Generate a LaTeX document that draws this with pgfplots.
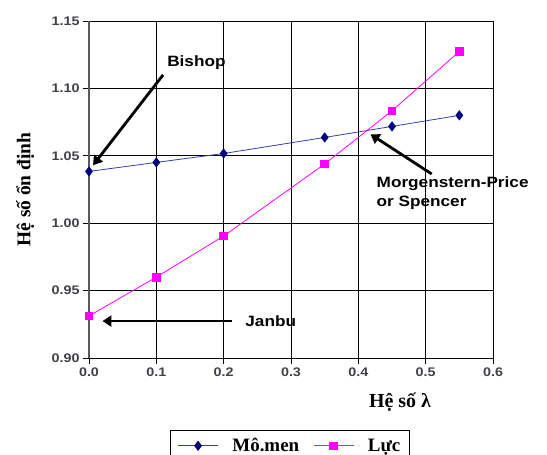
\documentclass[border=0pt]{standalone}
\usepackage{fontspec}
\setmainfont{Liberation Serif}
\newfontfamily\arialb{Liberation Sans}[FakeStretch=1.15]
\usepackage{pgfplots}
\pgfplotsset{compat=1.18}
\usetikzlibrary{arrows.meta}
\definecolor{momen}{HTML}{000080}
\definecolor{momenline}{HTML}{3A3AA8}
\definecolor{luc}{HTML}{FF00FF}
\definecolor{ticktext}{HTML}{404048}

\begin{document}
\begin{tikzpicture}[x=1bp,y=1bp]
\clip (-89,-97) rectangle (458,358);
\begin{axis}[
  at={(0,0)}, anchor=south west,
  scale only axis, width=404bp, height=337bp,
  xmin=0, xmax=0.6, ymin=0.9, ymax=1.15,
  xtick={0,0.1,0.2,0.3,0.4,0.5,0.6},
  ytick={0.90,0.95,1.00,1.05,1.10,1.15},
  clip=false,
  grid=major, major grid style={black, line width=0.7pt},
  axis line style={black, line width=0.7pt},
  tick align=outside, tick pos=left, major tick length=6bp,
  tick style={black, line width=0.7pt},
  /pgf/number format/assume math mode=true,
  tick label style={font=\arialb\bfseries\fontsize{12.5}{12.5}\selectfont, text=ticktext},
  x tick label style={/pgf/number format/.cd, fixed, fixed zerofill, precision=1},
  y tick label style={/pgf/number format/.cd, fixed, fixed zerofill, precision=2},
  ylabel={Hệ số ổn định},
  ylabel style={at={(axis description cs:-0.158,0.50)}, anchor=center,
    font=\bfseries\fontsize{19.5}{19.5}\selectfont},
  legend columns=2,
  legend style={at={(axis description cs:0.4975,-0.2136)}, anchor=north,
    draw=black, line width=0.8pt, font=\bfseries\fontsize{19}{19}\selectfont,
    inner xsep=7bp, inner ysep=6bp, column sep=12bp},
  legend image code/.code={
    \draw[mark repeat=2,mark phase=2] plot coordinates {(0bp,0bp)(20bp,0bp)(40bp,0bp)};},
]
\addplot[color=momenline, line width=0.8pt, mark=diamond*,
  mark options={fill=momen, draw=momen}, mark size=4.5bp] coordinates {
  (0,1.0384)(0.1,1.0451)(0.2,1.0517)(0.35,1.0636)(0.45,1.0718)(0.55,1.0800)};
\addplot[color=luc, line width=0.8pt, mark=square*,
  mark options={fill=luc, draw=luc}, mark size=3.8bp] coordinates {
  (0,0.9312)(0.1,0.9600)(0.2,0.9905)(0.35,1.0439)(0.45,1.0834)(0.55,1.1274)};
\legend{Mô.men, Lực}

\draw[line width=2bp, black!65] (axis cs:0,0.9) -- (axis cs:0,1.15);

\draw[line width=2.8bp, -{Triangle[length=9bp,width=11bp]}]
  (axis cs:0.110,1.110) -- (axis cs:0.006,1.043);
\draw[line width=2.8bp, -{Triangle[length=9bp,width=11bp]}]
  (axis cs:0.509,1.0365) -- (axis cs:0.418,1.066);
\draw[line width=2.8bp, -{Triangle[length=9bp,width=11bp]}]
  (axis cs:0.212,0.9274) -- (axis cs:0.020,0.9274);

\node[anchor=west, inner sep=0, font=\arialb\bfseries\fontsize{15}{15}\selectfont]
  at (axis cs:0.116,1.1188) {Bishop};
\node[anchor=north west, inner sep=0, align=left,
  font=\arialb\bfseries\fontsize{15}{20}\selectfont]
  at (axis cs:0.427,1.035) {Morgenstern-Price\\or Spencer};
\node[anchor=west, inner sep=0, font=\arialb\bfseries\fontsize{15}{15}\selectfont]
  at (axis cs:0.232,0.9274) {Janbu};
\node[font=\bfseries\fontsize{20}{20}\selectfont]
  at (axis cs:0.462,0.8674) {Hệ số λ};
\end{axis}
\end{tikzpicture}
\end{document}
